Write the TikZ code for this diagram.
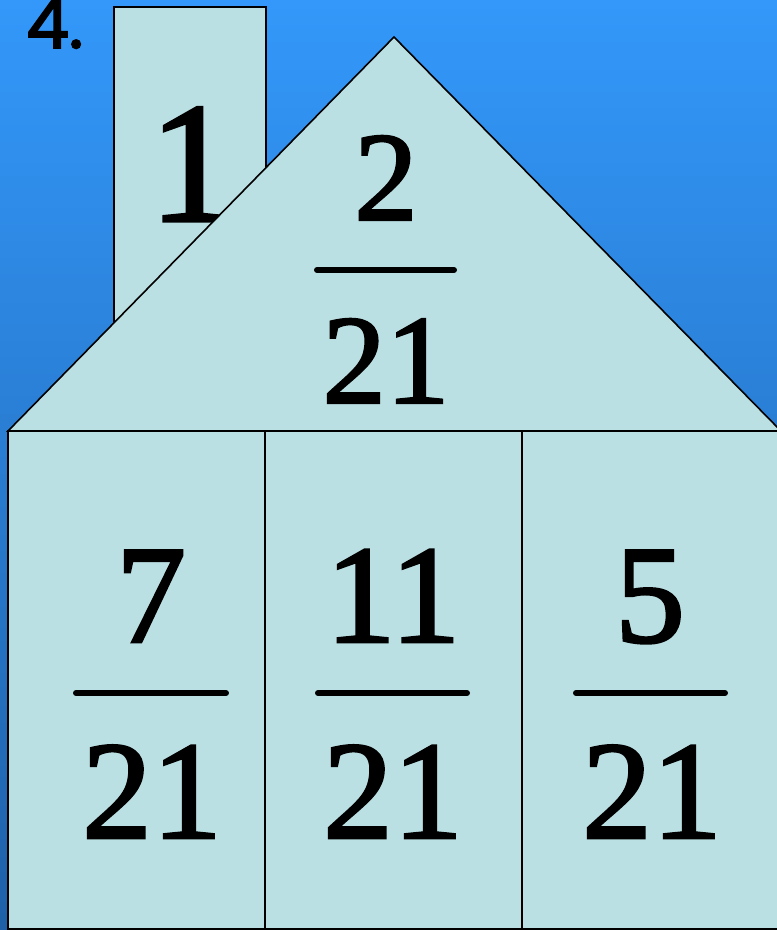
\documentclass[tikz,border=0pt]{standalone}
\usepackage{fontspec}
\setmainfont{Liberation Serif}
\newfontfamily\serifheavy{Liberation Serif}[FakeBold=1.9]
\newfontfamily\labelfont{Poppins}[FakeBold=2.6]
\definecolor{bgtop}{RGB}{51,152,250}
\definecolor{bgbot}{RGB}{31,96,168}
\definecolor{house}{RGB}{187,224,227}
\tikzset{
  part/.style={fill=house, draw=black, line width=1.6pt, line join=miter},
  numtext/.style={anchor=base, inner sep=0pt, text=black},
  bigfrac/.style={numtext, font=\serifheavy\fontsize{140}{140}\selectfont},
  rooffrac/.style={numtext, font=\serifheavy\fontsize{127}{127}\selectfont},
  fracbar/.style={draw=black, line width=6pt, line cap=round}
}
\begin{document}
\begin{tikzpicture}[x=1pt, y=-1pt]
\useasboundingbox (0,0) rectangle (777,930);
\clip (0,0) rectangle (777,930);
\shade[top color=bgtop, bottom color=bgbot] (0,0) rectangle (777,930);
% title
\node[numtext, anchor=base west, font=\labelfont\fontsize{68}{68}\selectfont] (title) at (26,48) {4.};
% chimney
\path[part] (114,7) rectangle (266,360);
\node[numtext, font=\serifheavy\fontsize{172}{172}\selectfont] (chim) at (192,221) {1};
% roof
\path[part] (8,431) -- (394,37) -- (781,431) -- cycle;
\node[rooffrac] (rnum) at (386,220) {2};
\node[rooffrac] (rden) at (386,403) {21};
\draw[fracbar] (317,270) -- (454,270);
% walls
\path[part] (8,431) rectangle (790,929);
\draw[line width=1.6pt] (265,431) -- (265,929);
\draw[line width=1.6pt] (522,431) -- (522,929);
% left cell
\node[bigfrac] (lnum) at (151,642) {7};
\node[bigfrac] (lden) at (152,838) {21};
\draw[fracbar] (76,693) -- (226,693);
% middle cell
\node[bigfrac] (mnum) at (393,642) {11};
\node[bigfrac] (mden) at (393,838) {21};
\draw[fracbar] (318,693) -- (467,693);
% right cell
\node[bigfrac] (rrnum) at (650,642) {5};
\node[bigfrac] (rrden) at (652,838) {21};
\draw[fracbar] (576,693) -- (725,693);
\end{tikzpicture}
\end{document}
